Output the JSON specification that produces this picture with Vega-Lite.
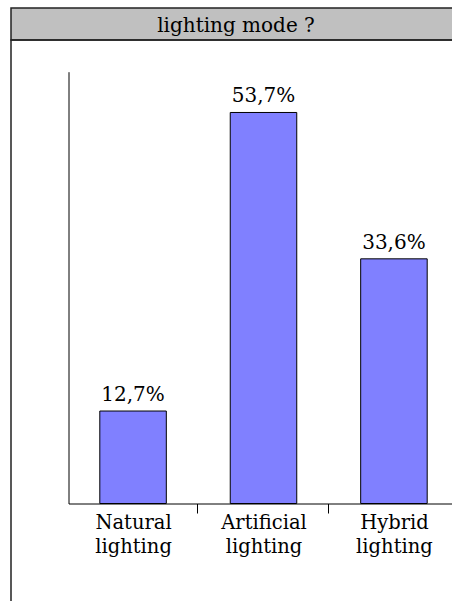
{
  "$schema": "https://vega.github.io/schema/vega-lite/v6.json",
  "autosize": {"type": "pad"},
  "padding": {"left": 10, "top": 7, "right": 0, "bottom": 0},
  "background": "white",
  "bounds": "flush",
  "spacing": 0,
  "config": {
    "font": "DejaVu Serif",
    "concat": {"spacing": 0}
  },
  "vconcat": [
    {
      "width": 450,
      "height": 32,
      "view": {"fill": "#c0c0c0", "stroke": "#222222", "strokeWidth": 1.5},
      "data": {"values": [{"t": "lighting mode ?"}]},
      "mark": {"type": "text", "font": "DejaVu Serif", "fontSize": 20, "color": "black", "dy": 1.5, "dx": 0},
      "encoding": {"text": {"field": "t", "type": "nominal"}}
    },
    {
      "width": 450,
      "height": 580,
      "view": {"stroke": "#222222", "strokeWidth": 1.5, "fill": null},
      "data": {
        "values": [
          {"cat": "Natural lighting", "v": 12.7, "label": "12,7%"},
          {"cat": "Artificial lighting", "v": 53.7, "label": "53,7%"},
          {"cat": "Hybrid lighting", "v": 33.6, "label": "33,6%"}
        ]
      },
      "encoding": {
        "x": {
          "field": "cat",
          "type": "nominal",
          "sort": null,
          "scale": {"range": [57.5, 447.5], "paddingInner": 0.49, "paddingOuter": 0.24},
          "axis": {
            "title": null,
            "offset": -116.5,
            "labelAngle": 0,
            "labelAlign": "center",
            "labelBaseline": "top",
            "labelExpr": "split(datum.label, ' ')",
            "labelFont": "DejaVu Serif",
            "labelFontSize": 19.5,
            "labelLineHeight": 24.5,
            "labelColor": "black",
            "labelPadding": 0,
            "labelOffset": -64,
            "tickOffset": 64,
            "tickSize": 9.5,
            "tickColor": "black",
            "tickWidth": 1,
            "domainColor": "black",
            "domainWidth": 1,
            "grid": false
          }
        },
        "y": {
          "field": "v",
          "type": "quantitative",
          "scale": {"domain": [0, 59.3], "range": [463.5, 31.7], "nice": false},
          "axis": {
            "title": null,
            "offset": -57.5,
            "labels": false,
            "ticks": false,
            "grid": false,
            "domainColor": "black",
            "domainWidth": 1
          }
        }
      },
      "layer": [
        {"mark": {"type": "bar", "color": "#8080ff", "stroke": "black", "strokeWidth": 1}},
        {
          "mark": {"type": "text", "font": "DejaVu Serif", "fontSize": 20, "color": "black", "baseline": "alphabetic", "dy": -10},
          "encoding": {"text": {"field": "label", "type": "nominal"}}
        }
      ]
    }
  ]
}
